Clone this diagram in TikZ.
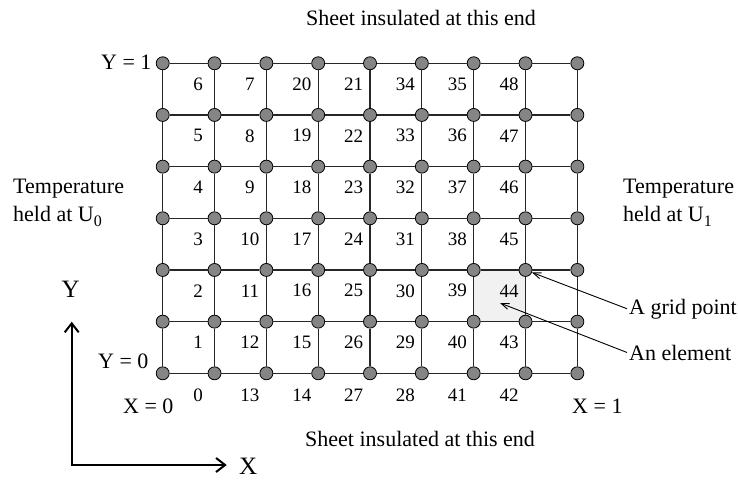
\documentclass[tikz,border=0pt]{standalone}
\usepackage{fontspec}
\setmainfont{Liberation Serif}
\usetikzlibrary{arrows.meta}
\definecolor{dotgray}{HTML}{858585}
\definecolor{elemfill}{HTML}{F1F1F1}
\newcommand{\subdig}[1]{\raisebox{-5pt}{\fontsize{16}{16}\selectfont #1}}
\begin{document}
\begin{tikzpicture}[x=1pt,y=-1pt,
  gpt/.style={circle, draw=black, line width=0.8pt, fill=dotgray, minimum size=13pt, inner sep=0pt},
  num/.style={font=\fontsize{19}{19}\selectfont, inner sep=0pt},
  lbl/.style={font=\fontsize{22}{28}\selectfont, inner sep=0pt, anchor=base west},
  axlbl/.style={font=\fontsize{25}{25}\selectfont, inner sep=0pt, anchor=base west},
  gridline/.style={line width=1.1pt, draw=black!85},
  axis/.style={line width=2.4pt, line join=miter, {Straight Barb[length=9pt,width=14pt,line width=2pt]}-{Straight Barb[length=9pt,width=14pt,line width=2pt]}},
  leader/.style={line width=0.9pt, -{Straight Barb[length=8pt,width=6pt]}}]
\useasboundingbox (0,0) rectangle (738,482);
% shaded element
\fill[elemfill] ({162.7+51.83*6},{373.3-51.67*1}) rectangle ({162.7+51.83*7},{373.3-51.67*2});
% grid points
\foreach \i in {0,...,8} {
  \foreach \j in {0,...,6} {
    \node[gpt] (p-\i-\j) at ({162.7+51.83*\i},{373.3-51.67*\j}) {};
  }
}
% grid lines
\foreach \i [count=\ii from 1] in {0,...,7} {
  \foreach \j in {0,...,6} {
    \draw[gridline] (p-\i-\j) -- (p-\ii-\j);
  }
}
\foreach \i in {0,...,8} {
  \foreach \j [count=\jj from 1] in {0,...,5} {
    \draw[gridline] (p-\i-\j) -- (p-\i-\jj);
  }
}
% element numbers
\foreach \c in {0,...,6} {
  \pgfmathtruncatemacro{\bl}{mod(\c,2)==1 ? 7*\c+6 : 7*\c}
  \node[num] (n\bl) at ({162.7+51.83*(\c+0.5)+9.5},395) {\bl};
  \foreach \r in {0,...,5} {
    \pgfmathtruncatemacro{\lb}{mod(\c,2)==1 ? 7*\c+5-\r : 7*\c+1+\r}
    \node[num] (n\lb) at ({162.7+51.83*(\c+0.5)+9.5},{373.3-51.67*(\r+0.5)-5}) {\lb};
  }
}
% boundary labels
\node[lbl] (top) at (306,25) {Sheet insulated at this end};
\node[lbl] (bot) at (305,446) {Sheet insulated at this end};
\node[lbl] (y1) at (101,69) {Y = 1};
\node[lbl] (y0) at (98,368) {Y = 0};
\node[lbl] (x0) at (123,413) {X = 0};
\node[lbl] (x1) at (572,413) {X = 1};
\node[lbl, align=left] (tl) at (13,221) {Temperature\\held at U\subdig{0}};
\node[lbl, align=left] (tr) at (623,221) {Temperature\\held at U\subdig{1}};
% callouts
\node[lbl] (agp) at (629,314) {A grid point};
\node[lbl] (ael) at (629,360) {An element};
\coordinate (elem) at (500,303);
\draw[leader] ([xshift=-2pt]agp.west) -- (p-7-2);
\draw[leader] ([xshift=-2pt]ael.west) -- (elem);
% axes
\coordinate (o) at (71.7,465);
\coordinate (ytip) at (71.7,321.7);
\coordinate (xtip) at (226.7,465);
\draw[axis] (ytip) -- (o) -- (xtip);
\node[axlbl] (ylab) at (61.5,297) {Y};
\node[axlbl] (xlab) at (239,474) {X};
\end{tikzpicture}
\end{document}
